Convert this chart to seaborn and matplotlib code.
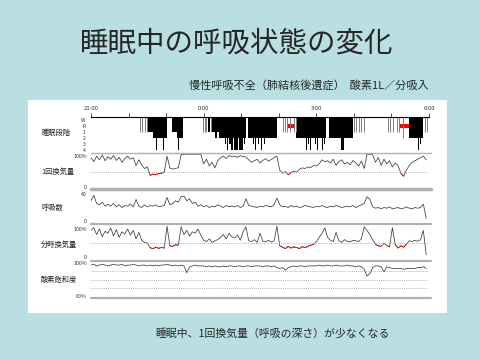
import numpy as np
import matplotlib
matplotlib.use("Agg")
import matplotlib.pyplot as plt
from matplotlib.patches import Rectangle
import seaborn as sns

# ---- data (time in hours after 21:00) ----
time_labels = ["21:00", "", "", "0:00", "", "", "3:00", "", "", "6:00"]
stage_labels = ["W", "R", "1", "2", "3", "4"]
panel_names = ["睡眠段階", "1回換気量", "呼吸数", "分時換気量", "酸素飽和度"]

# hypnogram: black sleep blocks (start, end, stage index 0=W .. 5=stage 4)
sleep_start = [1.49, 1.64, 1.74, 1.83, 1.92, 1.99, 2.15, 2.28, 2.31, 3.12, 3.22, 3.30, 3.36, 3.42,
               3.57, 3.62, 3.68, 3.74, 3.80, 3.94, 4.07, 4.19, 4.31, 4.38, 4.45, 4.52, 4.60,
               5.47, 5.66, 5.72, 5.78, 5.84, 5.90, 5.96, 6.02, 6.09, 6.15, 6.20,
               6.34, 6.67, 8.47, 8.71, 8.77]
sleep_end = [1.64, 2.03, 1.76, 1.85, 1.94, 2.01, 2.28, 2.44, 2.33, 3.17, 3.30, 3.36, 3.42, 4.14,
             3.60, 3.66, 3.72, 3.78, 3.92, 4.05, 4.10, 4.94, 4.33, 4.40, 4.47, 4.54, 4.62,
             6.27, 5.68, 5.74, 5.80, 5.87, 5.92, 5.98, 6.05, 6.11, 6.17, 6.23,
             6.98, 6.73, 8.83, 8.74, 8.80]
sleep_stage = [2, 3, 5, 4, 5, 4, 2, 3, 5, 2, 2, 3, 2, 3,
               4, 5, 4, 5, 5, 5, 4, 3, 4, 5, 4, 5, 4,
               3, 4, 5, 4, 5, 5, 4, 5, 4, 5, 4,
               3, 5, 3, 5, 4]
# short arousal / light-sleep lines
light_time = [1.31, 1.37, 1.43, 1.48, 2.98, 3.03, 3.07, 3.20, 5.11, 5.16, 5.21, 5.31, 5.41, 5.45,
              6.99, 7.06, 7.13, 7.19, 7.26, 7.92, 7.97, 8.04, 8.15, 8.20, 8.30, 8.90, 8.94]
light_stage = [2, 2, 2, 2, 2, 2, 2, 2, 2, 2, 2, 2, 2, 2,
               2, 2, 2, 2, 2, 2, 2, 2, 2, 2, 3, 2, 2]
rem_start = [5.21, 8.21]
rem_end = [5.43, 8.47]

# traces, one value every 0.075 h
tidal_volume = [95, 82, 100, 88, 104, 85, 98, 90, 102, 86, 96, 80, 92, 100,
                90, 95, 70, 88, 72, 60, 65, 38, 42, 40, 44, 45, 48, 100,
                62, 58, 60, 63, 104, 106, 106, 106, 106, 106, 106, 106,
                75, 90, 68, 80, 62, 85, 95, 100, 92, 102, 98, 100, 96, 101, 99, 97,
                88, 80, 85, 90, 78, 86, 92, 84, 89, 95, 100,
                55, 45, 50, 40, 47, 52, 48, 58, 62, 60, 65, 63, 70, 68, 75, 88, 82,
                85, 78, 90, 70, 82, 88, 75, 80, 72, 86, 78, 68, 84, 60,
                106, 106, 104, 80, 95, 70, 90, 75, 85, 65, 78, 70, 45, 35, 55,
                70, 80, 85, 90, 95, 100, 88]
resp_rate = [30, 38, 26, 24, 28, 22, 25, 22, 26, 21, 24, 20, 23, 22,
             25, 21, 32, 22, 20, 24, 21, 23, 22, 24, 21, 22, 23,
             35, 24, 26, 30, 28, 36, 37, 30, 33, 26, 28,
             22, 24, 21, 23, 20, 22, 21, 24, 22, 20, 23, 21, 22, 21, 23, 20, 22,
             33, 23, 22, 21, 20, 22, 21, 23, 22, 21, 24, 34, 24,
             21, 22, 20, 23, 21, 22, 20, 21, 23, 22, 21, 20, 22, 21, 23, 21, 20, 22, 21, 23,
             22, 20, 21, 22, 21, 23, 20, 22, 24, 26, 36, 32,
             21, 19, 20, 18, 20, 19, 21, 18, 19, 20, 18, 19, 21, 19, 18, 20, 19, 20, 25, 4]
minute_vent = [95, 105, 80, 100, 72, 92, 85, 104, 75, 98, 70, 90, 82, 100,
               78, 95, 65, 88, 60, 52, 50, 33, 30, 35, 31, 34, 32, 110,
               40, 38, 44, 42, 108, 80, 95, 75, 90, 85, 100, 78,
               60, 55, 65, 52, 58, 62, 70, 80, 65, 85, 72, 68, 78, 60, 90, 108,
               58, 55, 62, 52, 85, 56, 54, 60, 53, 58, 110,
               40, 35, 30, 38, 32, 36, 34, 30, 37, 33, 38, 42, 45,
               55, 70, 85, 104, 70, 60, 55, 88, 58, 52, 62, 56, 54, 60, 58, 55, 65, 108,
               95, 80, 62, 45, 40, 38, 48, 42, 36, 105, 44, 32, 40, 35, 46,
               58, 55, 60, 56, 62, 95, 8]
spo2 = [98.5, 99, 98, 98.5, 99, 98.5, 98, 98.5, 99, 98.5, 98.5, 99, 98, 98.5, 98.5, 99, 98.5, 98, 98.5, 98.5,
        98, 98.5, 98, 98.5, 98, 98.5, 98.5, 99, 98.5, 98, 98.5, 98, 98.5, 98, 94, 97.5, 98, 98.5, 98, 98,
        98, 97.5, 98, 97.5, 98, 97.5, 97.5, 98, 97.5, 98, 98, 97.5, 98, 98, 97.5, 98, 98, 97.5, 98, 98,
        98, 97.5, 98, 98, 97.5, 98, 97, 96.5, 97, 95.5, 97, 97.5, 98, 97.5, 98, 98, 97.5, 98, 98, 98,
        98, 98.5, 98, 98, 98.5, 98, 98, 98.5, 98, 98, 98, 98.5, 98, 98, 97.5, 98, 97.5, 96, 92, 93.5,
        97, 98, 98, 97.5, 94.5, 97.5, 97, 96.5, 96.5, 96.5, 96.5, 96, 96.5, 96.5, 96.5, 96.5, 97, 97, 97.5, 96.5]

hours = np.arange(len(tidal_volume)) * 0.075

# ---- figure ----
sns.set_style("white")
plt.rcParams['font.family'] = ['Noto Sans CJK JP', 'DejaVu Sans']

W, H = 479, 359
fig = plt.figure(figsize=(W / 100, H / 100), dpi=100, facecolor='#b9dfe3')
fig.patches.append(Rectangle((28 / W, 1 - 313 / H), 419 / W, 213 / H,
                             transform=fig.transFigure, facecolor='white', edgecolor='none', zorder=-10))

fig.text(237 / W, 1 - 43 / H, "睡眠中の呼吸状態の変化", fontsize=20.5, ha='center', va='center')
fig.text(309 / W, 1 - 85 / H, "慢性呼吸不全（肺結核後遺症）  酸素1L／分吸入", fontsize=8, ha='center', va='center')
fig.text(272 / W, 1 - 333 / H, "睡眠中、1回換気量（呼吸の深さ）が少なくなる", fontsize=7.8, ha='center', va='center')


def panel(top, bottom):
    ax = fig.add_axes([91 / W, 1 - bottom / H, 338 / W, (bottom - top) / H])
    ax.set_facecolor('none')
    ax.set_zorder(1)
    ax.set_xlim(0, 9)
    for s in ax.spines.values():
        s.set_visible(False)
    ax.set_xticks([])
    ax.tick_params(axis='y', length=0, labelsize=3.8, pad=3, colors='#333333')
    return ax


grey = '#3c3c3c'
sep = '#b0b0b0'

# 1. hypnogram
ax0 = panel(117, 153)
ax0.set_ylim(5.5, -0.5)
ax0.spines['top'].set_visible(True)
ax0.spines['top'].set_linewidth(0.8)
ax0.spines['top'].set_color('black')
ax0.xaxis.tick_top()
ax0.set_xticks(range(10), time_labels)
ax0.tick_params(axis='x', length=3, width=0.6, labelsize=4.3, pad=1, colors='#333333')
ax0.set_yticks(range(6), stage_labels)
ax0.tick_params(axis='y', labelsize=3.6, pad=4)
s0 = np.array(sleep_start)
ax0.bar(s0, np.array(sleep_stage) + 0.5, width=np.array(sleep_end) - s0, bottom=-0.5,
        align='edge', color='black', linewidth=0)
ax0.vlines(light_time, -0.5, light_stage, color='#808080', lw=0.7)
r0 = np.array(rem_start)
ax0.bar(r0, 0.6, width=np.array(rem_end) - r0, bottom=0.7, align='edge', color='red', linewidth=0)


def trace(ax, values, low=None):
    v = np.array(values, dtype=float)
    sns.lineplot(x=hours, y=v, ax=ax, color=grey, lw=0.55, estimator=None, errorbar=None)
    if low is not None:
        mask = v < low
        mask[-1] = False
        ax.plot(hours, np.where(mask, v, np.nan), color='red', lw=0.6)
    ax.set_xlabel('')
    ax.set_ylabel('')


# 2. tidal volume
ax1 = panel(153, 189)
ax1.set_ylim(-6, 110)
trace(ax1, tidal_volume, low=50)
ax1.axhline(110, color=sep, lw=1.0, xmax=1.005, clip_on=False)
ax1.axhline(50, color='#999999', lw=0.6, ls=(0, (1, 1.5)))
ax1.axhline(-6, color=sep, lw=2.5, xmax=1.005, clip_on=False)
ax1.set_yticks([0, 100], ['0', '100%'])

# 3. respiratory rate
ax2 = panel(189, 224)
ax2.set_ylim(-4.4, 47.4)
trace(ax2, resp_rate)
ax2.axhline(-4.4, color=sep, lw=1.6, xmax=1.005, clip_on=False)
ax2.set_yticks([0, 40], ['0', '40'])

# 4. minute ventilation
ax3 = panel(224, 261)
ax3.set_ylim(-14.3, 117.9)
trace(ax3, minute_vent, low=48)
ax3.axhline(50, color='#999999', lw=0.6, ls=(0, (1, 1.5)))
ax3.axhline(-14.3, color=sep, lw=1.6, xmax=1.005, clip_on=False)
ax3.set_yticks([0, 100], ['0', '100%'])

# 5. SpO2
ax4 = panel(261, 298)
ax4.set_ylim(79.1, 100.9)
trace(ax4, spo2)
for lvl in [95, 90, 85]:
    ax4.axhline(lvl, color='#999999', lw=0.6, ls=(0, (1, 1.5)))
ax4.axhline(79.1, color=sep, lw=1.6, xmax=1.005, clip_on=False)
ax4.set_yticks([80, 100], ['80%', '100%'])

# row names on the left
for name, y in zip(panel_names, [133, 172, 208, 245, 280]):
    fig.text(41 / W, 1 - y / H, name, fontsize=5.2, ha='left', va='center', color='#222222')

fig.savefig("out.png", dpi=100, facecolor=fig.get_facecolor())
